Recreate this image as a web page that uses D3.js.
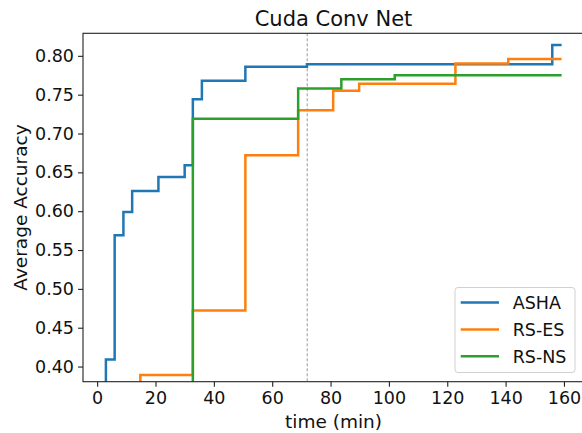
<!DOCTYPE html>
<html>
<head>
<meta charset="utf-8">
<script src="https://cdn.jsdelivr.net/npm/d3@7"></script>
<style>
  body { margin: 0; background: #fff; }
  svg { display: block; font-family: "DejaVu Sans", sans-serif; }
</style>
</head>
<body>
<div id="chart"></div>
<script>
// best accuracy so far, step changes at each time (min)
const ashaTimes = [0, 3, 6, 9, 12, 21, 30, 32.8, 35.9, 50.8, 71.9, 156, 159.2];
const ashaValues = [0.1, 0.409, 0.569, 0.599, 0.626, 0.644, 0.659, 0.744, 0.768, 0.786, 0.789, 0.814, 0.814];

const rsesTimes = [0, 14.8, 32.8, 50.8, 68.9, 80.9, 89.8, 122.8, 140.9, 159.2];
const rsesValues = [0.1, 0.389, 0.472, 0.672, 0.730, 0.755, 0.764, 0.790, 0.796, 0.796];

const rsnsTimes = [0, 32.8, 68.9, 83.7, 102.0, 159.2];
const rsnsValues = [0.1, 0.719, 0.758, 0.770, 0.775, 0.775];

const seriesNames = ["ASHA", "RS-ES", "RS-NS"];
const seriesColors = ["#1f77b4", "#ff7f0e", "#2ca02c"];
const xTicks = [0, 20, 40, 60, 80, 100, 120, 140, 160];
const yTicks = [0.40, 0.45, 0.50, 0.55, 0.60, 0.65, 0.70, 0.75, 0.80];
const markerTime = 72;

const width = 582;
const height = 433;
// right edge of the axes sits just outside the picture
const plotLeft = 83, plotRight = 583.5, plotTop = 33.3, plotBottom = 381.7;

const x = d3.scaleLinear().domain([-4.85, 166.7]).range([plotLeft, plotRight]);
const y = d3.scaleLinear().domain([0.3805, 0.829]).range([plotBottom, plotTop]);

const series = [
    { name: seriesNames[0], color: seriesColors[0], data: ashaTimes.map((t, i) => ({ t, v: ashaValues[i] })) },
    { name: seriesNames[1], color: seriesColors[1], data: rsesTimes.map((t, i) => ({ t, v: rsesValues[i] })) },
    { name: seriesNames[2], color: seriesColors[2], data: rsnsTimes.map((t, i) => ({ t, v: rsnsValues[i] })) }
];

const svg = d3.select("#chart").append("svg")
    .attr("width", width)
    .attr("height", height)
    .attr("viewBox", [0, 0, width, height]);

svg.append("defs").append("clipPath")
    .attr("id", "plot-clip")
    .append("rect")
    .attr("x", plotLeft)
    .attr("y", plotTop)
    .attr("width", plotRight - plotLeft)
    .attr("height", plotBottom - plotTop);

// dashed marker line
svg.append("line")
    .attr("x1", x(markerTime))
    .attr("x2", x(markerTime))
    .attr("y1", plotTop)
    .attr("y2", plotBottom)
    .attr("stroke", "#999")
    .attr("stroke-width", 1)
    .attr("stroke-dasharray", "3,2");

const line = d3.line()
    .x(d => x(d.t))
    .y(d => y(d.v))
    .curve(d3.curveStepAfter);

svg.append("g")
    .attr("clip-path", "url(#plot-clip)")
    .selectAll("path")
    .data(series)
    .join("path")
    .attr("fill", "none")
    .attr("stroke", d => d.color)
    .attr("stroke-width", 2.5)
    .attr("d", d => line(d.data));

// axes
const xAxis = svg.append("g")
    .attr("transform", `translate(0,${plotBottom})`)
    .call(d3.axisBottom(x).tickValues(xTicks).tickSize(5).tickPadding(5).tickFormat(d3.format("d")));
const yAxis = svg.append("g")
    .attr("transform", `translate(${plotLeft},0)`)
    .call(d3.axisLeft(y).tickValues(yTicks).tickSize(5).tickPadding(4).tickFormat(d3.format(".2f")));

[xAxis, yAxis].forEach(a => {
    a.select(".domain").remove();
    a.selectAll(".tick line").attr("stroke", "#222").attr("stroke-width", 1.1);
    a.selectAll(".tick text").attr("fill", "#111").attr("font-size", 17.5).attr("font-family", "DejaVu Sans");
});

// frame
svg.append("rect")
    .attr("x", plotLeft)
    .attr("y", plotTop)
    .attr("width", plotRight - plotLeft)
    .attr("height", plotBottom - plotTop)
    .attr("fill", "none")
    .attr("stroke", "#222")
    .attr("stroke-width", 1.1);

// title and labels
svg.append("text")
    .attr("x", 333.5)
    .attr("y", 26)
    .attr("text-anchor", "middle")
    .attr("font-size", 21)
    .attr("fill", "#111")
    .text("Cuda Conv Net");

svg.append("text")
    .attr("x", 333.5)
    .attr("y", 427.5)
    .attr("text-anchor", "middle")
    .attr("font-size", 18.5)
    .attr("fill", "#111")
    .text("time (min)");

svg.append("text")
    .attr("transform", `translate(27,${(plotTop + plotBottom) / 2}) rotate(-90)`)
    .attr("text-anchor", "middle")
    .attr("font-size", 18.5)
    .attr("fill", "#111")
    .text("Average Accuracy");

// legend
const legend = svg.append("g");
legend.append("rect")
    .attr("x", 455)
    .attr("y", 287.5)
    .attr("width", 120)
    .attr("height", 85)
    .attr("rx", 3)
    .attr("fill", "#fff")
    .attr("fill-opacity", 0.8)
    .attr("stroke", "#d0d0d0")
    .attr("stroke-width", 1);

const rows = legend.selectAll("g.row")
    .data(series)
    .join("g")
    .attr("class", "row")
    .attr("transform", (d, i) => `translate(0,${302.5 + i * 26.9})`);
rows.append("line")
    .attr("x1", 460.7)
    .attr("x2", 499)
    .attr("stroke", d => d.color)
    .attr("stroke-width", 2.5);
rows.append("text")
    .attr("x", 512.7)
    .attr("y", 6.3)
    .attr("font-size", 17.5)
    .attr("fill", "#111")
    .text(d => d.name);
</script>
</body>
</html>
